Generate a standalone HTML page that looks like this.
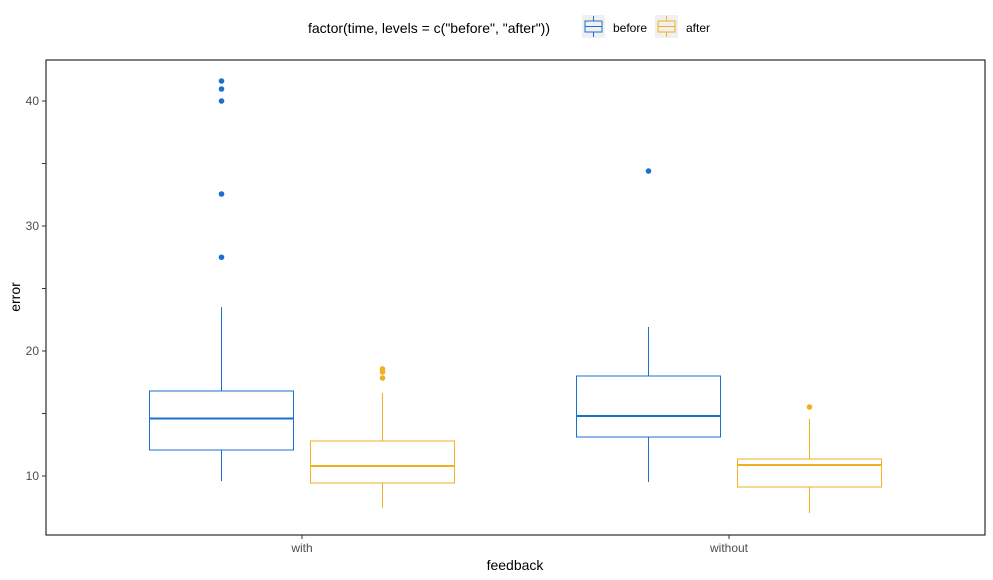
<!DOCTYPE html>
<html><head><meta charset="utf-8"><style>
body{margin:0;background:#fff}
svg{display:block;font-family:"Liberation Sans",sans-serif}
</style></head><body>
<svg id="c" width="993" height="580" viewBox="0 0 993 580">
<rect x="0" y="0" width="993" height="580" fill="#fff"/>
<g>
<text x="308" y="33" font-size="14" fill="#000">factor(time, levels = c("before", "after"))</text>
<g>
<rect x="582" y="15" width="23" height="23" fill="#f0f0f0"/>
<rect x="585" y="21" width="17" height="11" fill="none" stroke="#1a6fcf"/>
<line x1="585" y1="26.5" x2="602" y2="26.5" stroke="#1a6fcf"/>
<line x1="593.5" y1="16" x2="593.5" y2="21" stroke="#1a6fcf"/><line x1="593.5" y1="32" x2="593.5" y2="37" stroke="#1a6fcf"/>
<text x="613" y="32" font-size="12" fill="#000">before</text></g>
<g>
<rect x="655" y="15" width="23" height="23" fill="#f0f0f0"/>
<rect x="658" y="21" width="17" height="11" fill="none" stroke="#f0b020"/>
<line x1="658" y1="26.5" x2="675" y2="26.5" stroke="#f0b020"/>
<line x1="666.5" y1="16" x2="666.5" y2="21" stroke="#f0b020"/><line x1="666.5" y1="32" x2="666.5" y2="37" stroke="#f0b020"/>
<text x="686" y="32" font-size="12" fill="#000">after</text></g>
</g>
<rect x="46" y="60" width="939" height="475" fill="none" stroke="#000" stroke-width="1"/>
<g id="axes"></g>
<g id="marks"></g>
<text x="515" y="570" font-size="14" text-anchor="middle">feedback</text>
<text transform="translate(20,297) rotate(-90)" font-size="14" text-anchor="middle">error</text>
</svg>
<script>
const categories=["with","without"];
const groups=["before","after"];
const colors={before:"#1a6fcf",after:"#f0b020"};
// [lowerWhisker, q1, median, q3, upperWhisker] per category per group
const statsBefore=[[9.6,12.08,14.6,16.8,23.5],[9.52,13.12,14.8,18,21.92]];
const statsAfter=[[7.44,9.44,10.8,12.8,16.64],[7.04,9.12,10.88,11.36,14.56]];
const outliersBefore=[[41.6,40.96,40,32.56,27.5],[34.4]];
const outliersAfter=[[18.56,18.32,17.84],[15.52]];
const yTicks=[10,20,30,40];
const yMinor=[15,25,35];

const NS="http://www.w3.org/2000/svg";
function y(v){return 476-(v-10)*12.5;}
function xc(i){return 302+i*427;}
const dodge=80.5, half=72;
function mk(tag,attrs,parent){const e=document.createElementNS(NS,tag);for(const k in attrs)e.setAttribute(k,attrs[k]);parent.appendChild(e);return e;}
const ax=document.getElementById("axes"), mg=document.getElementById("marks");
yTicks.forEach(t=>{
  const l=mk("line",{x1:42,x2:46,y1:y(t),y2:y(t),stroke:"#333"},ax);
  
  
  const tx=mk("text",{x:39,y:y(t)+4,"font-size":12,"text-anchor":"end",fill:"#4d4d4d"},ax);
  tx.textContent=t;
  
  
});
yMinor.forEach(t=>{
  const l=mk("line",{x1:42,x2:46,y1:y(t),y2:y(t),stroke:"#333"},ax);
  
  
});
categories.forEach((c,i)=>{
  const l=mk("line",{x1:xc(i),x2:xc(i),y1:535,y2:539,stroke:"#333"},ax);
  
  
  const tx=mk("text",{x:xc(i),y:552,"font-size":12,"text-anchor":"middle",fill:"#4d4d4d"},ax);
  tx.textContent=c;
  
  
});
function drawBox(s,outs,cx,col,name){
  const g=mk("g",{},mg);
  
  
  mk("line",{x1:cx,x2:cx,y1:y(s[3]),y2:y(s[4]),stroke:col},g);
  mk("line",{x1:cx,x2:cx,y1:y(s[1]),y2:y(s[0]),stroke:col},g);
  mk("rect",{x:cx-half,y:y(s[3]),width:2*half,height:y(s[1])-y(s[3]),fill:"#fff",stroke:col},g);
  mk("line",{x1:cx-half,x2:cx+half,y1:y(s[2]),y2:y(s[2]),stroke:col,"stroke-width":2},g);
  outs.forEach(o=>{
    const p=mk("circle",{cx:cx,cy:y(o),r:2.8,fill:col},g);
    
    
  });
}
categories.forEach((c,i)=>{
  drawBox(statsBefore[i],outliersBefore[i],xc(i)-dodge,colors.before,"box-"+c+"-before");
  drawBox(statsAfter[i],outliersAfter[i],xc(i)+dodge,colors.after,"box-"+c+"-after");
});
</script>
</body></html>
